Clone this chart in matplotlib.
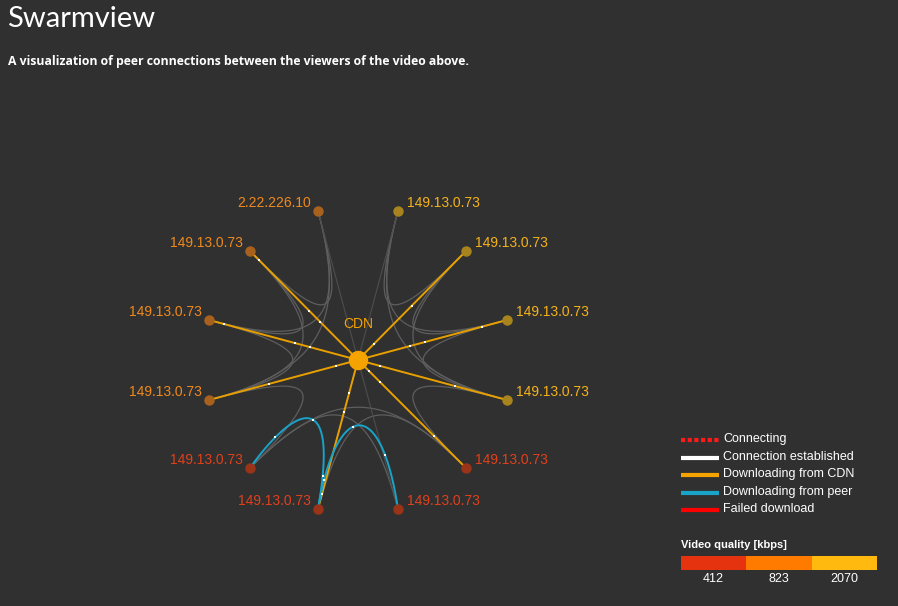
import numpy as np
import matplotlib
matplotlib.use("Agg")
import matplotlib.pyplot as plt

BG = "#303030"
W, H = 898, 606
# node layout (pixel space of the diagram)
node_x = [318, 398, 250, 466, 209, 507, 209, 507, 250, 466, 318, 398]
node_y = [211, 211, 251, 251, 320, 320, 400, 400, 468, 468, 509, 509]
node_labels = ["2.22.226.10"] + ["149.13.0.73"] * 11
node_quality = [823, 2070, 823, 2070, 823, 2070, 823, 2070, 412, 412, 412, 412]
cdn_x, cdn_y = 358, 360
cdn_edges = [2, 3, 4, 5, 6, 7, 9, 10]
cdn_dots = {2: [0.08, 0.55, 0.65], 3: [0.5, 0.85, 0.95], 4: [0.1, 0.58, 0.68], 5: [0.17, 0.55, 0.65],
            6: [0.4, 0.85, 0.95], 7: [0.35, 0.85, 0.95], 9: [0.3, 0.8, 0.9], 10: [0.1, 0.65, 0.78]}
peer_edges = [(8, 10), (11, 10)]
peer_ctrl = {(8, 10): [(295, 405), (340, 385)], (11, 10): [(380, 390), (335, 405)]}
gray_edges = [(0, 4), (0, 6), (0, 2), (1, 5), (1, 7), (1, 3), (2, 4), (3, 5), (4, 6), (5, 7),
              (6, 8), (7, 9), (8, 9), (9, 10), (8, 11), (2, 6), (3, 7)]
straight_gray = [(0, 11), (1, 10)]
quality_levels = [412, 823, 2070]
quality_colors = ["#e5330f", "#ff7b00", "#ffb90f"]
label_colors = {412: "#e0401c", 823: "#f08a1c", 2070: "#f5b21a"}
node_colors = {412: "#9a3418", 823: "#a8621e", 2070: "#a8841e"}

fig = plt.figure(figsize=(W / 100, H / 100), dpi=100, facecolor=BG)
ax = fig.add_axes([0, 0, 1, 1])
ax.set_facecolor(BG)
ax.set_xlim(0, W); ax.set_ylim(H, 0); ax.axis("off")
FF = ["Liberation Sans", "DejaVu Sans"]

def bez(p0, p1, p2, p3, n=100):
    t = np.linspace(0, 1, n)[:, None]
    return ((1 - t) ** 3 * p0 + 3 * (1 - t) ** 2 * t * p1 + 3 * (1 - t) * t ** 2 * p2 + t ** 3 * p3)

C = np.array([cdn_x, cdn_y], float)
P = [np.array([x, y], float) for x, y in zip(node_x, node_y)]
for a, b in gray_edges:
    pa, pb = P[a], P[b]
    c = bez(pa, pa + 0.75 * (C - pa), pb + 0.75 * (C - pb), pb)
    ax.plot(c[:, 0], c[:, 1], color="#5e5e5e", lw=0.9, zorder=1)
for a, b in straight_gray:
    ax.plot([P[a][0], P[b][0]], [P[a][1], P[b][1]], color="#4e4e4e", lw=0.8, zorder=1)
for i in cdn_edges:
    ax.plot([P[i][0], cdn_x], [P[i][1], cdn_y], color="#e8a000", lw=1.4, zorder=2)
    for f in cdn_dots[i]:
        q = P[i] + f * (C - P[i])
        ax.plot(q[0], q[1], "s", ms=1.8, color="white", mew=0, zorder=4)
for a, b in peer_edges:
    pa, pb = P[a], P[b]
    c1, c2 = peer_ctrl[(a, b)]
    c = bez(pa, np.array(c1, float), np.array(c2, float), pb)
    ax.plot(c[:, 0], c[:, 1], color="#1aa3c8", lw=1.4, zorder=3)
    for f in [0.2, 0.55, 0.9]:
        q = c[int(f * (len(c) - 1))]
        ax.plot(q[0], q[1], "s", ms=1.8, color="white", mew=0, zorder=4)

for i, (x, y) in enumerate(zip(node_x, node_y)):
    q = node_quality[i]
    ax.plot(x, y, "o", ms=6.5, color=node_colors[q], mec=node_colors[q], zorder=5)
    right = x > cdn_x
    ax.text(x + 9 if right else x - 7, y - 8, node_labels[i], color=label_colors[q], fontsize=10,
            ha="left" if right else "right", va="center", family=FF, zorder=6)
ax.plot(cdn_x, cdn_y, "o", ms=13, color="#f5a300", zorder=5)
ax.text(cdn_x, 324, "CDN", color="#f5a300", fontsize=10, ha="center", va="center", family=FF)

ax.text(7, 19, "Swarmview", color="white", fontsize=21, fontweight="normal", va="center", family=["Lato", "DejaVu Sans"])
ax.text(8, 62, "A visualization of peer connections between the viewers of the video above.",
        color="white", fontsize=8.8, fontweight="bold", va="center", family=["Open Sans", "DejaVu Sans"])

# legend
leg = [("Connecting", "#ff1a1a", (0, (1, 0.6))), ("Connection established", "white", "-"),
       ("Downloading from CDN", "#f5a300", "-"), ("Downloading from peer", "#1aa3c8", "-"),
       ("Failed download", "#ff0000", "-")]
for k, (t, col, ls) in enumerate(leg):
    y = 440 + k * 17.5
    ax.plot([681, 719], [y, y], color=col, lw=3, ls=ls, solid_capstyle="butt", dash_capstyle="butt")
    ax.text(723, y - 1, t, color="white", fontsize=9, va="center", family=FF)
ax.text(681, 545, "Video quality [kbps]", color="white", fontsize=8, fontweight="bold", va="center", family=FF)
for k, (lv, col) in enumerate(zip(quality_levels, quality_colors)):
    x0 = 681 + k * 65.3
    ax.add_patch(plt.Rectangle((x0, 556), 65.3, 14, color=col, lw=0))
    ax.text(x0 + 32.6, 579, str(lv), color="white", fontsize=9, ha="center", va="center", family=FF)

fig.savefig("out.png", dpi=100, facecolor=BG)
